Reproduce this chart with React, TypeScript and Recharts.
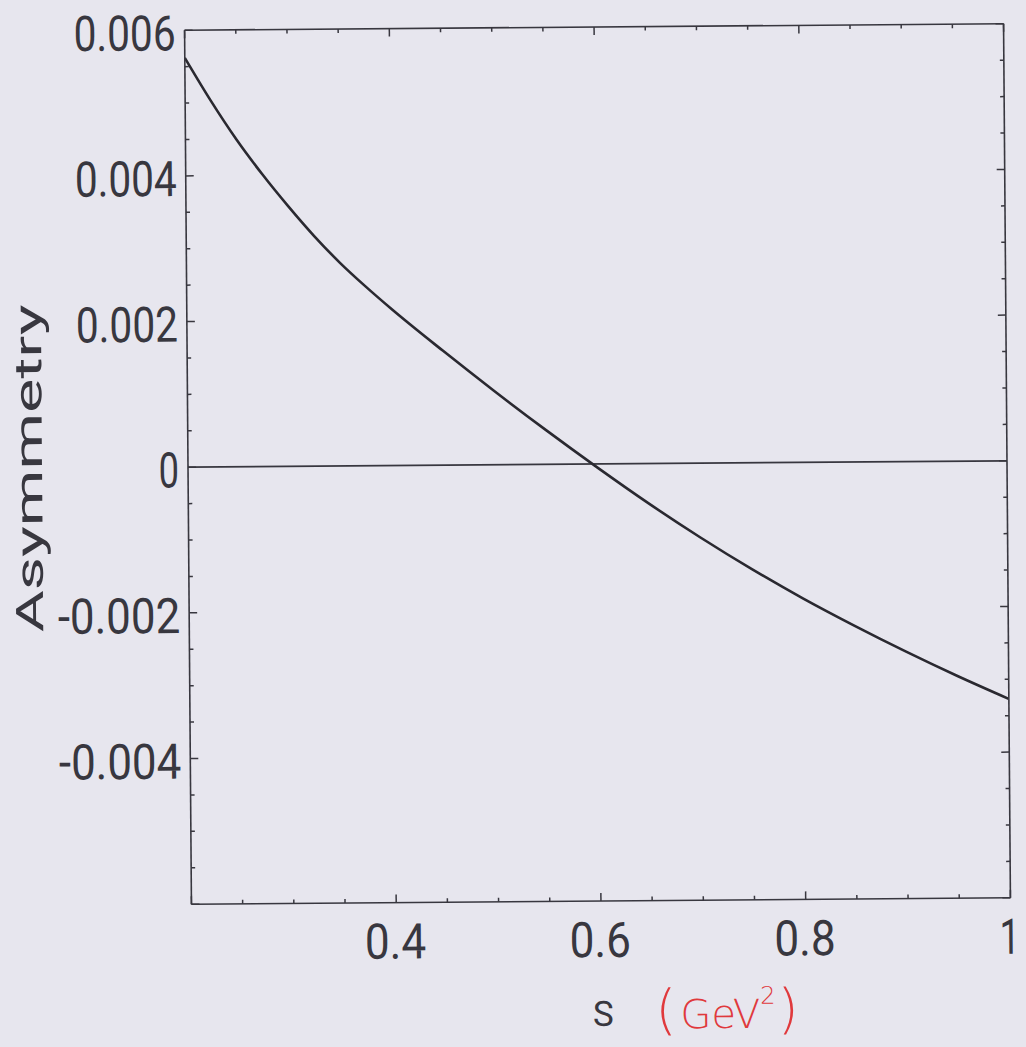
import React from 'react';
import { LineChart, Line, XAxis, YAxis, ReferenceLine, Label } from 'recharts';

// s in GeV^2, asymmetry
const sValues = [0.2, 0.225, 0.25, 0.275, 0.3, 0.325, 0.35, 0.375, 0.4, 0.45, 0.5, 0.55, 0.6, 0.65, 0.7, 0.75, 0.8, 0.85, 0.9, 0.95, 1.0];
const asymmetry = [
  0.00562, 0.00503, 0.00449, 0.00401, 0.00357, 0.00316, 0.00279, 0.00246, 0.00215,
  0.00157, 0.00101, 0.00047, -0.00005, -0.00055, -0.00102, -0.00146, -0.00187,
  -0.00225, -0.00261, -0.00295, -0.00327,
];

const xMajorTicks = [0.4, 0.6, 0.8, 1];
const xTickLabels = ['0.4', '0.6', '0.8', '1'];
const yMajorTicks = [0.006, 0.004, 0.002, 0, -0.002, -0.004];
const yTickLabels = ['0.006', '0.004', '0.002', '0', '-0.002', '-0.004'];

const steps = (from: number, to: number, step: number) => {
  const out: number[] = [];
  const n = Math.round((to - from) / step);
  for (let i = 0; i <= n; i++) out.push(+(from + i * step).toFixed(6));
  return out;
};
const xTicks = steps(0.2, 1, 0.05);
const yTicks = steps(-0.006, 0.006, 0.0005);

const data = sValues.map((s, i) => ({ s, a: asymmetry[i] }));

const INK = '#38373f';
const FONT = "Roboto, 'Liberation Mono', monospace";
const CHAR_W = 20.4;

const isMajor = (v: number, step: number) => Math.abs(v / step - Math.round(v / step)) < 1e-6;
const labelFor = (v: number, ticks: number[], labels: string[]) => {
  const i = ticks.findIndex((t) => Math.abs(t - v) < 1e-9);
  return i >= 0 ? labels[i] : null;
};

const makeTick = (side: 'left' | 'right' | 'top' | 'bottom') => (props: any) => {
  const { x, y, payload } = props;
  const v = payload.value;
  const vertical = side === 'left' || side === 'right';
  const len = isMajor(v, vertical ? 0.002 : 0.2) ? 8 : 4;
  let x2 = x;
  let y2 = y;
  if (side === 'left') x2 = x + len;
  if (side === 'right') x2 = x - len;
  if (side === 'top') y2 = y + len;
  if (side === 'bottom') y2 = y - len;
  let label: string | null = null;
  if (side === 'left') label = labelFor(v, yMajorTicks, yTickLabels);
  if (side === 'bottom') label = labelFor(v, xMajorTicks, xTickLabels);
  const textProps = {
    fontFamily: FONT,
    fontSize: 49,
    fontWeight: 400,
    fill: INK,
    lengthAdjust: 'spacingAndGlyphs' as const,
  };
  return (
    <g>
      <line x1={x} y1={y} x2={x2} y2={y2} stroke={INK} strokeWidth={1.5} />
      {label && side === 'left' && (
        <text x={x - 9} y={y + 20} textAnchor="end" textLength={label.length * CHAR_W} {...textProps}>
          {label}
        </text>
      )}
      {label && side === 'bottom' && (
        <text x={x - 1} y={y + 56} textAnchor="middle" textLength={label.length * CHAR_W} {...textProps}>
          {label}
        </text>
      )}
    </g>
  );
};

const YTitle = (props: any) => {
  const vb = props.viewBox;
  const cx = vb.x + 34;
  const cy = vb.y + vb.height / 2;
  return (
    <text
      x={cx}
      y={cy}
      transform={`rotate(-90, ${cx}, ${cy})`}
      textAnchor="middle"
      fontFamily={FONT}
      fontWeight={400}
      fontSize={38}
      fill={INK}
      textLength={328}
      lengthAdjust="spacingAndGlyphs"
    >
      Asymmetry
    </text>
  );
};

const XTitle = (props: any) => {
  const vb = props.viewBox;
  const base = vb.y + 125;
  return (
    <g>
      <text x={vb.x + 411} y={base} textAnchor="middle" fontFamily={FONT} fontWeight={400} fontSize={35} fill={INK}>
        S
      </text>
      <text x={vb.x + 463} y={base + 3} fontFamily="'DejaVu Sans', sans-serif" fontWeight={300} fill="#e0393c">
        <tspan fontSize={54}>(</tspan>
        <tspan fontSize={40} dx={4}>GeV</tspan>
        <tspan fontSize={24} dy={-24}>2</tspan>
        <tspan fontSize={54} dy={24} dx={2}>)</tspan>
      </text>
    </g>
  );
};

export default function App() {
  return (
    <div style={{ position: 'absolute', left: 0, top: 0, width: 1026, height: 1047, background: '#e7e6ee', overflow: 'hidden' }}>
      <div style={{ transform: 'rotate(-0.45deg)', transformOrigin: '597px 464px' }}>
        <LineChart width={1026} height={1047} data={data} margin={{ top: 26, right: 18, bottom: 46, left: 8 }}>
          <XAxis
            xAxisId="bottom"
            dataKey="s"
            type="number"
            domain={[0.2, 1]}
            allowDataOverflow
            ticks={xTicks}
            interval={0}
            height={100}
            tickSize={0}
            tickMargin={0}
            tickLine={false}
            axisLine={{ stroke: INK, strokeWidth: 1.6 }}
            tick={makeTick('bottom')}
          >
            <Label content={XTitle} />
          </XAxis>
          <XAxis
            xAxisId="top"
            orientation="top"
            dataKey="s"
            type="number"
            domain={[0.2, 1]}
            allowDataOverflow
            ticks={xTicks}
            interval={0}
            height={1}
            tickSize={0}
            tickMargin={0}
            tickLine={false}
            axisLine={{ stroke: INK, strokeWidth: 1.6 }}
            tick={makeTick('top')}
          />
          <YAxis
            yAxisId="left"
            type="number"
            domain={[-0.006, 0.006]}
            allowDataOverflow
            ticks={yTicks}
            interval={0}
            width={180}
            tickSize={0}
            tickMargin={0}
            tickLine={false}
            axisLine={{ stroke: INK, strokeWidth: 1.6 }}
            tick={makeTick('left')}
          >
            <Label content={YTitle} />
          </YAxis>
          <YAxis
            yAxisId="right"
            orientation="right"
            type="number"
            domain={[-0.006, 0.006]}
            allowDataOverflow
            ticks={yTicks}
            interval={0}
            width={1}
            tickSize={0}
            tickMargin={0}
            tickLine={false}
            axisLine={{ stroke: INK, strokeWidth: 1.6 }}
            tick={makeTick('right')}
          />
          <ReferenceLine xAxisId="bottom" yAxisId="left" y={0} stroke={INK} strokeWidth={1.8} />
          <Line
            xAxisId="bottom"
            yAxisId="left"
            dataKey="a"
            type="monotone"
            stroke="#2a2930"
            strokeWidth={2.6}
            dot={false}
            isAnimationActive={false}
          />
        </LineChart>
      </div>
    </div>
  );
}
